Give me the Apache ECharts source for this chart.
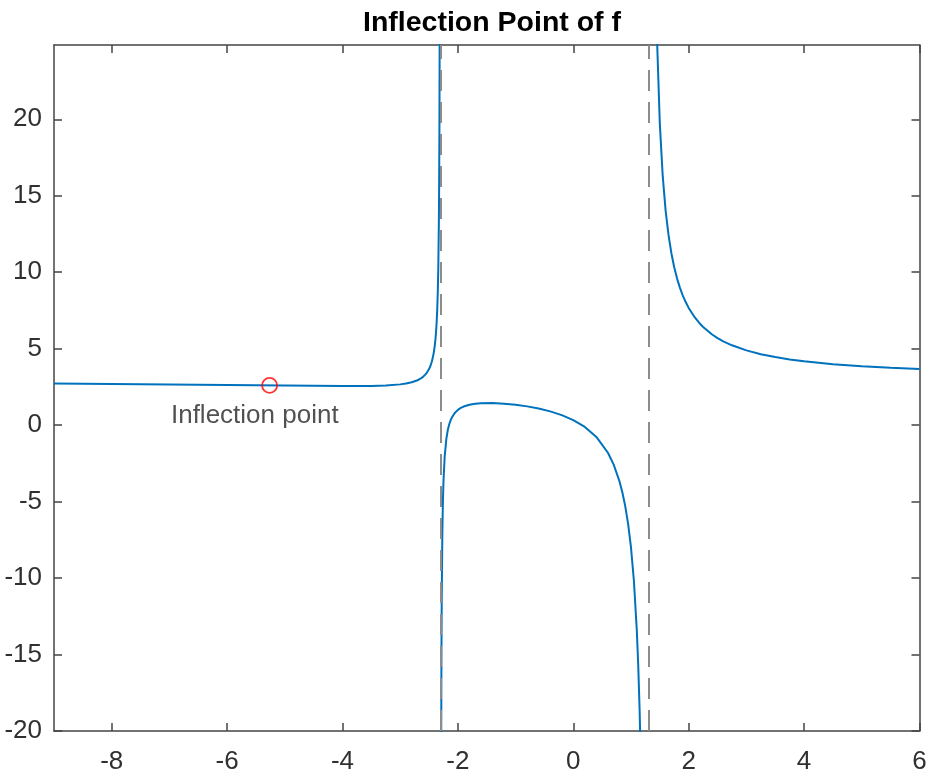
<!DOCTYPE html>
<html>
<head>
<meta charset="utf-8">
<script src="https://cdn.jsdelivr.net/npm/echarts@6/dist/echarts.min.js"></script>
<style>
html,body{margin:0;padding:0;background:#fff;}
#chart{width:932px;height:776px;}
</style>
</head>
<body>
<div id="chart"></div>
<script>
// ---- data ----
var titleText = 'Inflection Point of f';
var xTicks = [-8, -6, -4, -2, 0, 2, 4, 6];
var yTicks = [-20, -15, -10, -5, 0, 5, 10, 15, 20];

// left branch
var leftX = [-9, -8.5, -8, -7.5, -7, -6.5, -6, -5.5, -5, -4.5, -4, -3.5, -3.25, -3, -2.9, -2.8, -2.7, -2.65, -2.6, -2.55, -2.5, -2.475, -2.45, -2.42, -2.4, -2.39, -2.38, -2.37, -2.36, -2.35, -2.34, -2.33, -2.325, -2.32, -2.315, -2.31];
var leftY = [2.725, 2.712, 2.698, 2.683, 2.667, 2.649, 2.630, 2.609, 2.588, 2.569, 2.556, 2.565, 2.594, 2.667, 2.721, 2.804, 2.937, 3.036, 3.172, 3.367, 3.667, 3.884, 4.176, 4.696, 5.222, 5.577, 6.024, 6.605, 7.389, 8.507, 10.23, 13.21, 15.71, 19.67, 26.86, 44.0];

// middle branch
var midX = [-2.295, -2.29, -2.285, -2.28, -2.27, -2.26, -2.25, -2.23, -2.2, -2.175, -2.15, -2.125, -2.1, -2.05, -2, -1.95, -1.9, -1.8, -1.7, -1.6, -1.4, -1.2, -1, -0.8, -0.6, -0.4, -0.2, 0, 0.2, 0.4, 0.6, 0.7, 0.8, 0.85, 0.9, 0.95, 1.0, 1.05, 1.1, 1.125, 1.15, 1.175, 1.2];
var midY = [-36.86, -21.62, -14.95, -11.22, -7.16, -5.005, -3.667, -2.095, -0.889, -0.319, 0.062, 0.333, 0.536, 0.817, 1.0, 1.126, 1.217, 1.333, 1.398, 1.431, 1.443, 1.406, 1.333, 1.228, 1.086, 0.901, 0.658, 0.333, -0.116, -0.770, -1.804, -2.580, -3.667, -4.391, -5.295, -6.455, -8.0, -10.16, -13.38, -15.67, -18.71, -22.94, -29.22];

// right branch
var rightX = [1.35, 1.4, 1.42, 1.45, 1.5, 1.55, 1.6, 1.65, 1.7, 1.75, 1.8, 1.85, 1.9, 1.95, 2.0, 2.1, 2.2, 2.25, 2.4, 2.5, 2.6, 2.75, 3.0, 3.25, 3.5, 3.75, 4.0, 4.5, 5.0, 5.5, 6.0];
var rightY = [72.86, 36.89, 31.09, 25.35, 19.67, 16.28, 14.03, 12.44, 11.24, 10.31, 9.569, 8.963, 8.458, 8.032, 7.667, 7.074, 6.614, 6.420, 5.946, 5.696, 5.484, 5.222, 4.889, 4.642, 4.451, 4.300, 4.176, 3.989, 3.852, 3.748, 3.667];

// vertical asymptotes
var asymptotes = [-2.3028, 1.3028];
// inflection point
var inflX = -5.2635, inflY = 2.5993;
var inflLabel = 'Inflection point';
var inflLabelX = -5.52, inflLabelY = 0.6;

function pairs(xs, ys) { return xs.map(function (x, i) { return [x, ys[i]]; }); }

var axisColor = '#444444';
var labelColor = '#303030';
var font = 'Liberation Sans, Arial, Helvetica, sans-serif';
var curveColor = '#0072BD';

var chart = echarts.init(document.getElementById('chart'), null, {renderer: 'canvas'});

var xCommon = {
  type: 'value', min: -9, max: 6,
  axisLine: {show: true, onZero: false, lineStyle: {color: axisColor, width: 1.5}},
  axisTick: {show: true, inside: true, length: 8, customValues: xTicks, lineStyle: {color: axisColor, width: 1.5}},
  splitLine: {show: false}
};
var yCommon = {
  type: 'value', min: -20, max: 24.86,
  axisLine: {show: true, onZero: false, lineStyle: {color: axisColor, width: 1.5}},
  axisTick: {show: true, inside: true, length: 8, customValues: yTicks, lineStyle: {color: axisColor, width: 1.5}},
  splitLine: {show: false}
};

var lineBase = {
  type: 'line', showSymbol: false, symbol: 'none', clip: true,
  smooth: false,
  lineStyle: {color: curveColor, width: 2}, silent: true
};

var option = {
  animation: false,
  backgroundColor: '#ffffff',
  title: {
    text: titleText, left: 487, top: 4, textAlign: 'center',
    textStyle: {fontFamily: font, fontWeight: 'bold', fontSize: 28.5, color: '#000'}
  },
  grid: {left: 54, right: 12.5, top: 45, bottom: 45, containLabel: false},
  xAxis: [
    Object.assign({}, xCommon, {position: 'bottom',
      axisLabel: {show: true, customValues: xTicks, margin: 18, color: labelColor, fontFamily: font, fontSize: 26}}),
    Object.assign({}, xCommon, {position: 'top', axisLabel: {show: false}})
  ],
  yAxis: [
    Object.assign({}, yCommon, {position: 'left',
      axisLabel: {show: true, customValues: yTicks, margin: 12, color: labelColor, fontFamily: font, fontSize: 26}}),
    Object.assign({}, yCommon, {position: 'right', axisLabel: {show: false}})
  ],
  series: [
    Object.assign({}, lineBase, {name: 'left', data: pairs(leftX, leftY),
      markLine: {
        silent: true, symbol: ['none', 'none'], label: {show: false},
        lineStyle: {color: '#8c8c8c', width: 2, type: [21, 11]},
        data: asymptotes.map(function (a) { return {xAxis: a}; })
      }}),
    Object.assign({}, lineBase, {name: 'middle', data: pairs(midX, midY)}),
    Object.assign({}, lineBase, {name: 'right', data: pairs(rightX, rightY)}),
    {
      type: 'scatter', name: 'inflection', data: [[inflX, inflY]],
      symbol: 'circle', symbolSize: 15,
      itemStyle: {color: 'rgba(255,255,255,0)', borderColor: '#ff0000', borderWidth: 1.8},
      silent: true, z: 5
    },
    {
      type: 'scatter', name: 'label', data: [[inflLabelX, inflLabelY]],
      symbolSize: 0, silent: true,
      label: {show: true, position: 'inside', formatter: inflLabel,
        color: '#262626', fontFamily: font, fontSize: 26}
    }
  ]
};
chart.setOption(option);
</script>
</body>
</html>
